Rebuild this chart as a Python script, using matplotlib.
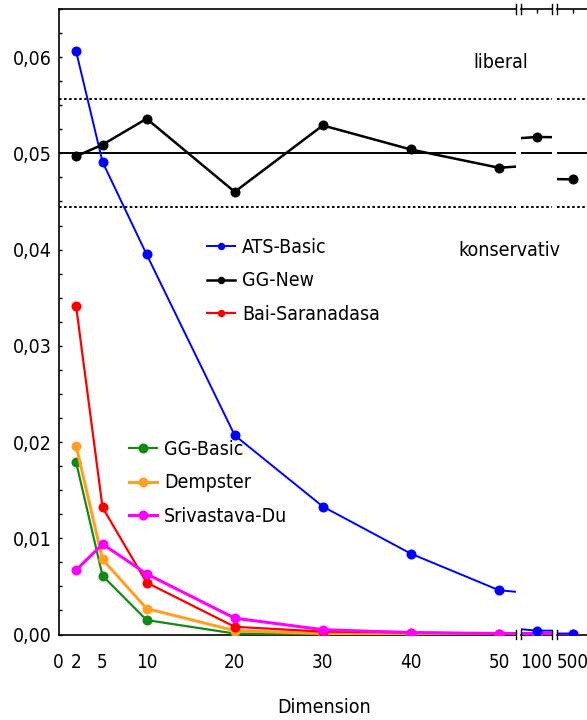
import matplotlib
matplotlib.use("Agg")
import matplotlib.pyplot as plt
from matplotlib import font_manager
from matplotlib.ticker import FixedLocator, MultipleLocator

# pick a narrow sans face if one is installed, else fall back to Liberation Sans
narrow = None
for f in font_manager.fontManager.ttflist:
    if f.style != "normal" or f.weight not in (400, "normal", "regular"):
        continue
    if f.name in ("Liberation Sans Narrow", "Arial Narrow", "Nimbus Sans Narrow",
                  "Roboto Condensed", "Open Sans Condensed") or \
            (f.name in ("DejaVu Sans", "Noto Sans", "Open Sans", "Roboto")
             and str(f.stretch) in ("condensed", "semi-condensed")):
        narrow = f
        break

if narrow is not None:
    plt.rcParams["font.family"] = [narrow.name, "DejaVu Sans"]
    plt.rcParams["font.stretch"] = narrow.stretch
else:
    plt.rcParams["font.family"] = ["Liberation Sans", "DejaVu Sans"]
plt.rcParams["font.size"] = 14

# values
dims = [2, 5, 10, 20, 30, 40, 50, 100, 500]
ats_basic = [0.0606, 0.0491, 0.0395, 0.0207, 0.0133, 0.0084, 0.0046, 0.0004, 0.0001]
gg_new = [0.0497, 0.0509, 0.0536, 0.0460, 0.0529, 0.0504, 0.0485, 0.0517, 0.0473]
bai_saranadasa = [0.0341, 0.0132, 0.0054, 0.0008, 0.0003, 0.0002, 0.0001, 0.0000, 0.0000]
gg_basic = [0.0179, 0.0061, 0.0015, 0.0001, 0.0000, 0.0000, 0.0000, 0.0000, 0.0000]
dempster = [0.0196, 0.0078, 0.0027, 0.0004, 0.0001, 0.0001, 0.0000, 0.0000, 0.0000]
srivastava_du = [0.0067, 0.0094, 0.0063, 0.0017, 0.0005, 0.0002, 0.0001, 0.0001, 0.0001]

alpha = 0.05
band_upper = 0.0556
band_lower = 0.0444

xticks_left = [0, 2, 5, 10, 20, 30, 40, 50]
yticks = [0.0, 0.01, 0.02, 0.03, 0.04, 0.05, 0.06]
ytick_labels = ["0,00", "0,01", "0,02", "0,03", "0,04", "0,05", "0,06"]

W, H = 587, 720
fig = plt.figure(figsize=(W / 100, H / 100), dpi=100)


def px_axes(x0, x1, ytop=9, ybot=634.5):
    return fig.add_axes([x0 / W, (H - ybot) / H, (x1 - x0) / W, (ybot - ytop) / H])


ax1 = px_axes(58.5, 516)
ax2 = px_axes(521, 552)
ax3 = px_axes(557, 587)
axes = [ax1, ax2, ax3]

ax1.set_xlim(0, (516 - 58.5) / 8.81)
ax2.set_xlim(100 - (536.7 - 521) / 8.81, 100 + (552 - 536.7) / 8.81)
ax3.set_xlim(500 - (573 - 557) / 8.81, 500 + (587 - 573) / 8.81)

series = [
    ("GG-Basic", gg_basic, "#118a11", 1.6, 1),
    ("Dempster", dempster, "#ffa024", 2.2, 2),
    ("Bai-Saranadasa", bai_saranadasa, "#ff0000", 1.6, 3),
    ("Srivastava-Du", srivastava_du, "#ff00ff", 2.2, 4),
    ("ATS-Basic", ats_basic, "#0000ff", 1.4, 5),
    ("GG-New", gg_new, "black", 1.8, 6),
]

handles = {}
for ax in axes:
    ax.axhline(alpha, color="black", lw=1.4, zorder=0.5)
    for yb in (band_upper, band_lower):
        ax.axhline(yb, color="black", lw=1.4, ls=(0, (1.3, 1.3)), zorder=0.5)
    for name, vals, col, lw, z in series:
        (ln,) = ax.plot(dims, vals, color=col, lw=lw, marker="o", ms=6.2,
                        zorder=z + 2)
        handles[name] = ln
    ax.set_ylim(0, 0.065)
    ax.spines["right"].set_visible(False)
    ax.spines["top"].set_linewidth(1.2)
    ax.spines["bottom"].set_linewidth(1.2)
    ax.tick_params(which="both", direction="in", length=3, width=1,
                   top=True, bottom=True, pad=13)
    ax.tick_params(axis="x", labelsize=13.5)

for ax in (ax2, ax3):
    ax.spines["left"].set_visible(False)
    ax.tick_params(axis="y", which="both", left=False, labelleft=False)

ax1.spines["left"].set_linewidth(1.2)
ax1.set_yticks(yticks)
ax1.set_yticklabels(ytick_labels)
ax1.yaxis.set_minor_locator(MultipleLocator(0.0025))
ax1.tick_params(axis="y", which="both", pad=5, length=2.5)
ax1.set_xticks(xticks_left)
ax1.tick_params(axis="x", which="major", length=0)
ax1.xaxis.set_minor_locator(FixedLocator([20, 30, 40, 50]))
ax2.set_xticks([100])
ax3.set_xticks([500])

# break marks at the ends of the axis segments
d = 4.5 / 625
for ax, sides in ((ax1, [1]), (ax2, [0, 1]), (ax3, [0])):
    for sx in sides:
        for sy in (0, 1):
            ax.plot([sx, sx], [sy - d, sy + d], transform=ax.transAxes,
                    color="black", lw=1, clip_on=False, zorder=10)

leg_kw = dict(loc="center left", frameon=False, borderpad=0, borderaxespad=0,
              handlelength=1.45, handletextpad=0.36, labelspacing=0.76)
fig.legend([handles[n] for n in ("ATS-Basic", "GG-New", "Bai-Saranadasa")],
           ["ATS-Basic", "GG-New", "Bai-Saranadasa"],
           bbox_to_anchor=(207 / W, (H - 281) / H), markerscale=0.7, **leg_kw)
fig.legend([handles[n] for n in ("GG-Basic", "Dempster", "Srivastava-Du")],
           ["GG-Basic", "Dempster", "Srivastava-Du"],
           bbox_to_anchor=(129 / W, (H - 483) / H), **leg_kw)

fig.text(501 / W, (H - 68) / H, "liberal", ha="center", va="baseline")
fig.text(509 / W, (H - 256) / H, "konservativ", ha="center", va="baseline")
fig.text(324 / W, (H - 713) / H, "Dimension", ha="center", va="baseline")

fig.savefig("out.png", dpi=100)
